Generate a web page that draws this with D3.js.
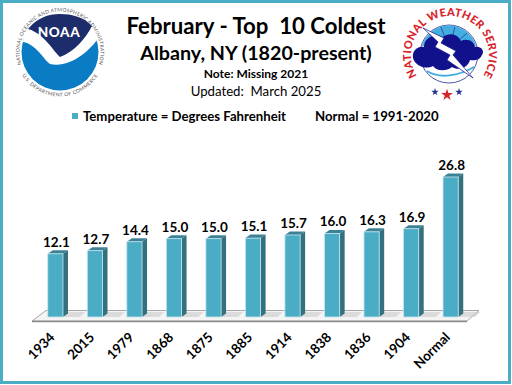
<!DOCTYPE html>
<html>
<head>
<meta charset="utf-8">
<script src="https://cdn.jsdelivr.net/npm/d3@7"></script>
<style>
  html, body { margin: 0; padding: 0; background: #fff; }
  svg { display: block; }
  text { font-family: Lato, "Open Sans", sans-serif; fill: #000; }
</style>
</head>
<body>
<svg id="chart" width="512" height="385"></svg>
<script>
// Chart values.
const categories = ["1934", "2015", "1979", "1868", "1875", "1885", "1914", "1838", "1836", "1904", "Normal"];
const temperatures = [12.1, 12.7, 14.4, 15.0, 15.0, 15.1, 15.7, 16.0, 16.3, 16.9, 26.8];
const valueLabels = ["12.1", "12.7", "14.4", "15.0", "15.0", "15.1", "15.7", "16.0", "16.3", "16.9", "26.8"];

const svg = d3.select("#chart");

// The body of the chart.
const plotLeft = 28, plotRight = 478, plotTop = 177, plotBottom = 317;
const depthX = 5, depthY = 3.5;

const scaleX = d3.scaleBand()
    .domain(categories)
    .range([plotLeft, plotRight])
    .paddingInner(0.615)
    .paddingOuter(0.5);

const scaleY = d3.scaleLinear()
    .domain([0, 26.8])
    .range([plotBottom, plotTop]);

// Outer teal frame.
svg.append("rect")
    .attr("x", 1.5).attr("y", 1.5)
    .attr("width", 508).attr("height", 381)
    .style("fill", "#fff")
    .style("stroke", "#4bacc6")
    .style("stroke-width", 3);

drawTitles();
drawLegend();
drawFloor();
drawBars();
drawXAxis();
drawNoaaLogo();
drawNwsLogo();

// Centered heading lines.
function drawTitles(){
    const lines = [
        {text: "February - Top\u00a0 10 Coldest", y: 33.5, size: 22.2, weight: 700},
        {text: "Albany, NY (1820-present)", y: 60, size: 19.7, weight: 700},
        {text: "Note: Missing 2021", y: 78, size: 12, weight: 700},
        {text: "Updated:\u00a0 March 2025", y: 95.5, size: 13.2, weight: 400}
    ];
    svg.selectAll(".title")
        .data(lines)
        .enter()
        .append("text")
        .attr("class", "title")
        .attr("x", 256)
        .attr("y", d => d.y)
        .attr("text-anchor", "middle")
        .style("font-size", d => d.size + "px")
        .style("font-weight", d => d.weight)
        .text(d => d.text);
}

// Legend row under the headings.
function drawLegend(){
    svg.append("rect")
        .attr("x", 72).attr("y", 113)
        .attr("width", 6).attr("height", 6)
        .style("fill", "#4bacc6");
    svg.append("text")
        .attr("x", 83).attr("y", 121)
        .style("font-size", "13.2px")
        .style("font-weight", 700)
        .text("Temperature = Degrees Fahrenheit");
    svg.append("text")
        .attr("x", 315).attr("y", 121)
        .style("font-size", "13.2px")
        .style("font-weight", 700)
        .text("Normal = 1991-2020");
}

// The slanted floor the bars stand on.
function drawFloor(){
    const floor = [[32, 321], [46, 310.5], [479, 310.5], [467, 321]];
    svg.append("polygon")
        .attr("points", floor.join(" "))
        .style("fill", "#f4f4f4")
        .style("stroke", "#a6a6a6")
        .style("stroke-width", 1);
    svg.append("line")
        .attr("x1", 32).attr("y1", 321.5)
        .attr("x2", 467).attr("y2", 321.5)
        .style("stroke", "#8c8c8c")
        .style("stroke-width", 1.5);
}

// Front, side and top faces of each bar, plus its value label.
function drawBars(){
    const data = categories.map((c, i) => ({cat: c, val: temperatures[i], label: valueLabels[i]}));
    const w = scaleX.bandwidth();

    const bars = svg.selectAll(".bar")
        .data(data)
        .enter()
        .append("g")
        .attr("class", "bar");

    // Shadow on the floor
    bars.append("polygon")
        .attr("points", d => {
            const x = scaleX(d.cat) + w;
            return [[x, plotBottom], [x + 17, plotBottom], [x + 22, plotBottom - 5], [x + depthX, plotBottom - 5]].join(" ");
        })
        .style("fill", "#c9c9c9")
        .style("opacity", 0.6);

    // Side face
    bars.append("polygon")
        .attr("points", d => {
            const x = scaleX(d.cat) + w, y = scaleY(d.val);
            return [[x, y], [x + depthX, y - depthY], [x + depthX, plotBottom - depthY], [x, plotBottom]].join(" ");
        })
        .style("fill", "#33717f");

    // Top face
    bars.append("polygon")
        .attr("points", d => {
            const x = scaleX(d.cat), y = scaleY(d.val);
            return [[x, y], [x + depthX, y - depthY], [x + w + depthX, y - depthY], [x + w, y]].join(" ");
        })
        .style("fill", "#3c8296");

    // Front face
    bars.append("rect")
        .attr("x", d => scaleX(d.cat))
        .attr("y", d => scaleY(d.val))
        .attr("width", w)
        .attr("height", d => plotBottom - scaleY(d.val))
        .style("fill", "#4bacc6")
        .style("stroke", "#c8e6ee")
        .style("stroke-width", 0.8);

    bars.append("text")
        .attr("x", d => scaleX(d.cat) + w / 2 + 1)
        .attr("y", d => scaleY(d.val) - 7)
        .attr("text-anchor", "middle")
        .style("font-size", "13.5px")
        .style("font-weight", 700)
        .text(d => d.label);
}

// Category labels, turned 45 degrees.
function drawXAxis(){
    const axis = svg.append("g")
        .attr("transform", `translate(-5, ${plotBottom + 13})`)
        .call(d3.axisBottom(scaleX).tickSize(0));
    axis.select(".domain").remove();
    axis.selectAll("text")
        .attr("x", 0).attr("y", 0).attr("dy", "0.7em")
        .attr("text-anchor", "end")
        .attr("transform", "rotate(-45) translate(-2, 0)")
        .style("font-family", "Lato, 'Open Sans', sans-serif")
        .style("font-size", "13.5px")
        .style("font-weight", 700);
}

// Text running along a circular arc.
function arcText(id, cx, cy, r, a0, a1, large, sweep, text, size, fill, weight, spacing){
    const pt = a => [cx + r * Math.sin(a * Math.PI / 180), cy - r * Math.cos(a * Math.PI / 180)];
    const p0 = pt(a0), p1 = pt(a1);
    svg.append("path")
        .attr("id", id)
        .attr("d", `M${p0} A${r},${r} 0 ${large} ${sweep} ${p1}`)
        .style("fill", "none");
    svg.append("text")
        .style("font-size", size + "px")
        .style("font-weight", weight)
        .style("letter-spacing", spacing + "px")
        .style("fill", fill)
        .attr("text-anchor", "middle")
        .append("textPath")
        .attr("href", "#" + id)
        .attr("startOffset", "50%")
        .text(text);
}

// NOAA seal, top left.
function drawNoaaLogo(){
    const g = svg.append("g");
    g.append("circle").attr("cx", 60).attr("cy", 52).attr("r", 38.5).style("fill", "#0a7cc4");
    // White gull and the sky behind it
    g.append("path")
        .attr("d", "M23,42 C36,44 44,60 50,64 C70,68 88,52 97,40 C94,20 78,13 60,13 C40,13 26,24 23,42 Z")
        .style("fill", "#fff");
    // Dark upper field
    g.append("path")
        .attr("d", "M28,29 C37,18 48,14 60,14 C72,14 84,17 92,26 C86,38 74,52 60,57 C56,54 50,44 42,37 C38,33 32,30 28,29 Z")
        .style("fill", "#1d2c6b");
    g.append("text")
        .attr("x", 59).attr("y", 37)
        .attr("text-anchor", "middle")
        .style("font-size", "13.5px")
        .style("font-weight", 900)
        .style("letter-spacing", "0.6px")
        .style("fill", "#fff")
        .text("NOAA");
    arcText("noaaTop", 60, 52, 40.5, -130, 130, 1, 1, "NATIONAL OCEANIC AND ATMOSPHERIC ADMINISTRATION", 5, "#555", 400, 0.25);
    arcText("noaaBottom", 60, 52, 44.5, -100, 100, 0, 0, "U.S. DEPARTMENT OF COMMERCE", 5, "#555", 400, 0.35);
}

// National Weather Service seal, top right.
function drawNwsLogo(){
    const g = svg.append("g");
    const cx = 449, cy = 54;
    g.append("circle").attr("cx", cx).attr("cy", cy).attr("r", 29).style("fill", "#fff").style("stroke", "#1f2f8f").style("stroke-width", 0.8);
    // Sky
    g.append("path")
        .attr("d", `M${cx - 27},${cy - 8} A28,28 0 0 1 ${cx + 27},${cy - 8} Z`)
        .style("fill", "#45aee0");
    // Rays in the sky
    const rays = [[-20, -20], [-8, -27], [6, -27], [18, -21]];
    g.selectAll(".ray")
        .data(rays)
        .enter()
        .append("line")
        .attr("class", "ray")
        .attr("x1", cx).attr("y1", cy - 5)
        .attr("x2", d => cx + d[0]).attr("y2", d => cy + d[1])
        .style("stroke", "#1f2f8f")
        .style("stroke-width", 0.7);
    // Cloud
    g.append("path")
        .attr("d", "M413,58 C412,50 418,46 424,47 C424,38 434,33 443,37 C449,32 458,34 461,41 C467,38 474,41 475,47 C481,46 485,51 482,55 C480,60 474,61 470,60 C468,68 458,71 452,67 C446,72 436,71 433,66 C426,70 415,66 413,58 Z")
        .style("fill", "#11118c");
    // Lower wave
    g.append("path")
        .attr("d", `M${cx - 22},${cy + 17} C${cx - 10},${cy + 25} ${cx + 10},${cy + 22} ${cx + 25},${cy + 13}`)
        .style("fill", "none")
        .style("stroke", "#45aee0")
        .style("stroke-width", 2);
    // Lightning bolt
    g.append("path")
        .attr("d", "M423,28 L444,38 L441,43 L456,51 L453,55 L473,78 L447,60 L450,55 L435,47 L438,42 Z")
        .style("fill", "#fff")
        .style("stroke", "#11118c")
        .style("stroke-width", 0.7);
    arcText("nwsRing", cx + 1, cy + 1, 39, -142, 142, 1, 1, "NATIONAL WEATHER SERVICE", 11, "#d8232a", 900, 0.3);
    // Stars under the ring
    const stars = [[435, 92, 2.2, "#1f2f8f"], [447, 95, 3.5, "#d8232a"], [459, 92, 2.2, "#1f2f8f"]];
    g.selectAll(".star")
        .data(stars)
        .enter()
        .append("path")
        .attr("class", "star")
        .attr("transform", d => `translate(${d[0]}, ${d[1]})`)
        .attr("d", d => d3.symbol(d3.symbolStar, d[2] * d[2] * 3.5)())
        .style("fill", d => d[3]);
}
</script>
</body>
</html>
